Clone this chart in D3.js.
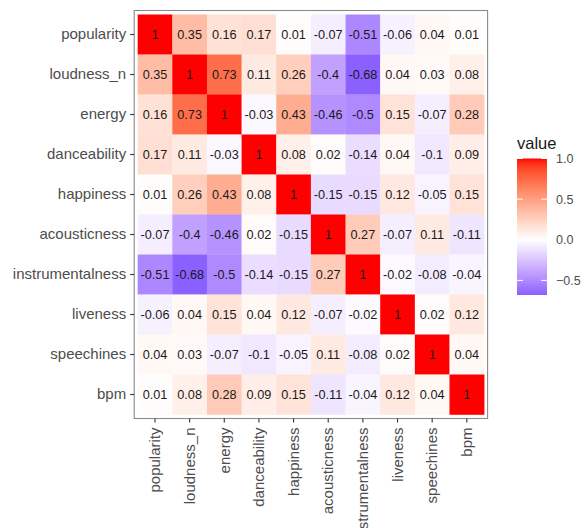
<!DOCTYPE html>
<html>
<head>
<meta charset="utf-8">
<script src="https://cdn.jsdelivr.net/npm/d3@7"></script>
<style>
  html, body { margin: 0; padding: 0; background: #fff; }
  svg { display: block; font-family: "Liberation Sans", Arial, Helvetica, sans-serif; }
</style>
</head>
<body>
<svg id="chart" width="584" height="528"></svg>
<script>
// ---- data ----
const variables = ["popularity", "loudness_n", "energy", "danceability", "happiness",
  "acousticness", "instrumentalness", "liveness", "speechines", "bpm"];

const popularity       = [1, 0.35, 0.16, 0.17, 0.01, -0.07, -0.51, -0.06, 0.04, 0.01];
const loudness_n       = [0.35, 1, 0.73, 0.11, 0.26, -0.4, -0.68, 0.04, 0.03, 0.08];
const energy           = [0.16, 0.73, 1, -0.03, 0.43, -0.46, -0.5, 0.15, -0.07, 0.28];
const danceability     = [0.17, 0.11, -0.03, 1, 0.08, 0.02, -0.14, 0.04, -0.1, 0.09];
const happiness        = [0.01, 0.26, 0.43, 0.08, 1, -0.15, -0.15, 0.12, -0.05, 0.15];
const acousticness     = [-0.07, -0.4, -0.46, 0.02, -0.15, 1, 0.27, -0.07, 0.11, -0.11];
const instrumentalness = [-0.51, -0.68, -0.5, -0.14, -0.15, 0.27, 1, -0.02, -0.08, -0.04];
const liveness         = [-0.06, 0.04, 0.15, 0.04, 0.12, -0.07, -0.02, 1, 0.02, 0.12];
const speechines       = [0.04, 0.03, -0.07, -0.1, -0.05, 0.11, -0.08, 0.02, 1, 0.04];
const bpm              = [0.01, 0.08, 0.28, 0.09, 0.15, -0.11, -0.04, 0.12, 0.04, 1];

const matrixRows = [popularity, loudness_n, energy, danceability, happiness,
  acousticness, instrumentalness, liveness, speechines, bpm];

const legendTicks = [-0.5, 0, 0.5, 1.0];
const legendTitle = "value";

// ---- build cell table ----
const cells = [];
matrixRows.forEach((row, i) => {
  row.forEach((v, j) => cells.push({ row: variables[i], col: variables[j], value: v }));
});
const vmin = d3.min(cells, d => d.value), vmax = d3.max(cells, d => d.value);

// ---- layout ----
const panel = { left: 134.2, right: 487.6, top: 10.5, bottom: 418.5 };
const n = variables.length;
const stepX = (panel.right - panel.left) / (n + 0.2);
const stepY = (panel.bottom - panel.top) / (n + 0.2);

const x = d3.scaleBand().domain(variables)
  .range([panel.left + 0.1 * stepX, panel.right - 0.1 * stepX]).padding(0);
const y = d3.scaleBand().domain(variables)
  .range([panel.top + 0.1 * stepY, panel.bottom - 0.1 * stepY]).padding(0);

const color = d3.scaleLinear().domain([-1, 0, 1])
  .range(["blue", "white", "red"]).interpolate(d3.interpolateLab).clamp(true);

const svg = d3.select("#chart");

// panel background
svg.append("rect")
  .attr("x", panel.left).attr("y", panel.top)
  .attr("width", panel.right - panel.left).attr("height", panel.bottom - panel.top)
  .attr("fill", "#fff");

// tiles
svg.append("g").selectAll("rect").data(cells).join("rect")
  .attr("x", d => x(d.col))
  .attr("y", d => y(d.row))
  .attr("width", x.bandwidth() + 0.3)
  .attr("height", y.bandwidth() + 0.3)
  .attr("fill", d => color(d.value));

// cell labels
svg.append("g").selectAll("text").data(cells).join("text")
  .attr("x", d => x(d.col) + x.bandwidth() / 2)
  .attr("y", d => y(d.row) + y.bandwidth() / 2)
  .attr("dy", "0.36em")
  .attr("text-anchor", "middle")
  .attr("font-size", 12.7)
  .attr("fill", "#1a1a1a")
  .text(d => String(d.value));

// panel border
svg.append("rect")
  .attr("x", panel.left).attr("y", panel.top)
  .attr("width", panel.right - panel.left).attr("height", panel.bottom - panel.top)
  .attr("fill", "none").attr("stroke", "#8a8a8a").attr("stroke-width", 1.1);

// y axis
const yAxis = svg.append("g")
  .attr("transform", `translate(${panel.left},0)`)
  .call(d3.axisLeft(y).tickSize(4).tickPadding(4));
yAxis.select(".domain").remove();
yAxis.selectAll(".tick line").attr("stroke", "#333").attr("stroke-width", 1.1);
yAxis.selectAll(".tick text")
  .attr("font-size", 15).attr("fill", "#4d4d4d")
  .attr("font-family", "'Liberation Sans', Arial, sans-serif");

// x axis
const xAxis = svg.append("g")
  .attr("transform", `translate(0,${panel.bottom})`)
  .call(d3.axisBottom(x).tickSize(4).tickPadding(4));
xAxis.select(".domain").remove();
xAxis.selectAll(".tick line").attr("stroke", "#333").attr("stroke-width", 1.1);
xAxis.selectAll(".tick text")
  .attr("font-size", 15).attr("fill", "#4d4d4d")
  .attr("font-family", "'Liberation Sans', Arial, sans-serif")
  .attr("transform", "rotate(-90)")
  .attr("text-anchor", "end")
  .attr("x", -9)
  .attr("y", 0)
  .attr("dy", "0.35em");

// ---- legend ----
const leg = { x: 517, w: 30, top: 158.5, bottom: 295 };
const ly = d3.scaleLinear().domain([vmin, vmax]).range([leg.bottom, leg.top]);

const defs = svg.append("defs");
const grad = defs.append("linearGradient").attr("id", "lg")
  .attr("x1", 0).attr("y1", 1).attr("x2", 0).attr("y2", 0);
d3.range(0, 1.0001, 0.02).forEach(t => {
  const v = vmin + t * (vmax - vmin);
  grad.append("stop").attr("offset", t).attr("stop-color", color(v));
});

svg.append("text")
  .attr("x", leg.x).attr("y", 148.5)
  .attr("font-size", 16.5).attr("fill", "#1a1a1a")
  .text(legendTitle);

svg.append("rect")
  .attr("x", leg.x).attr("y", leg.top)
  .attr("width", leg.w).attr("height", leg.bottom - leg.top)
  .attr("fill", "url(#lg)");

const lt = svg.append("g");
legendTicks.forEach(t => {
  const yy = ly(t);
  lt.append("line").attr("x1", leg.x).attr("x2", leg.x + leg.w / 5)
    .attr("y1", yy).attr("y2", yy).attr("stroke", "#fff").attr("stroke-width", 1);
  lt.append("line").attr("x1", leg.x + leg.w * 4 / 5).attr("x2", leg.x + leg.w)
    .attr("y1", yy).attr("y2", yy).attr("stroke", "#fff").attr("stroke-width", 1);
  lt.append("text").attr("x", 556).attr("y", yy).attr("dy", "0.35em")
    .attr("font-size", 12.5).attr("fill", "#4d4d4d")
    .text(d3.format(".1f")(t));
});
</script>
</body>
</html>
